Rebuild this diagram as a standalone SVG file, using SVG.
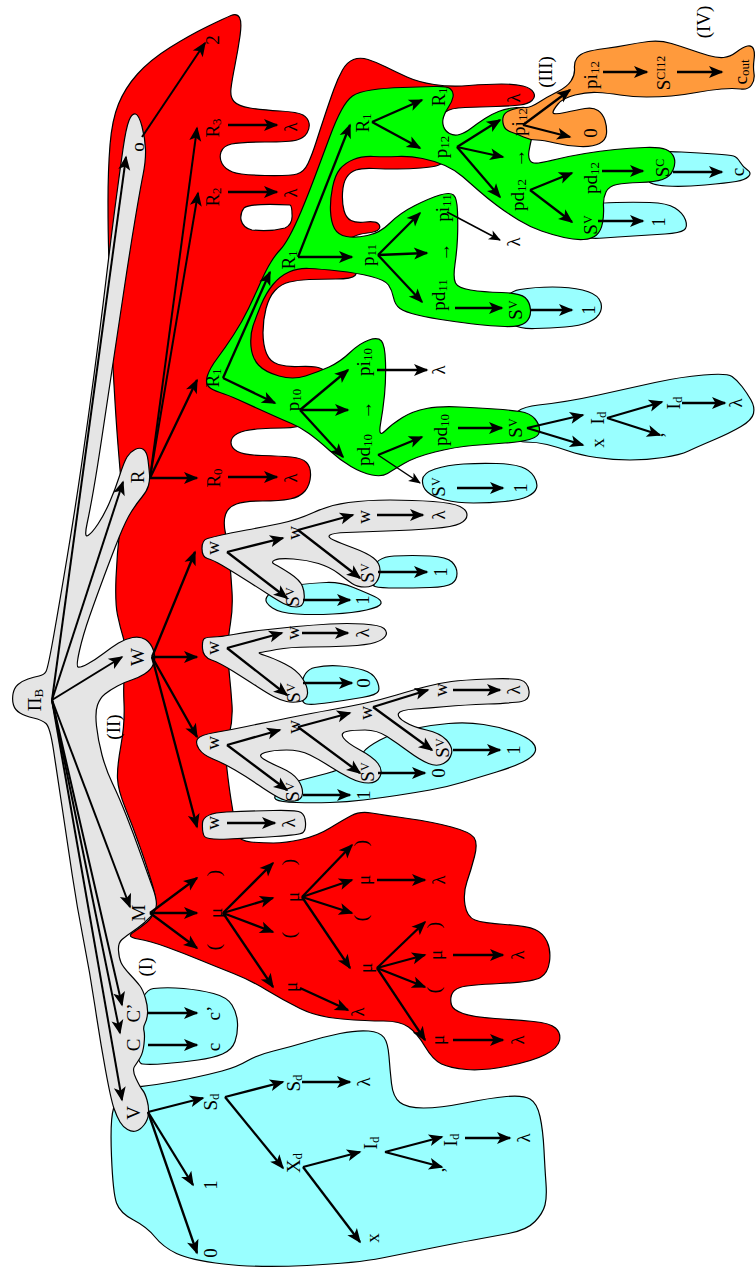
<svg xmlns="http://www.w3.org/2000/svg" width="756" height="1272" viewBox="0 0 756 1272">
<defs>
<style>
.t{font-family:"Liberation Serif","Times New Roman",serif;font-size:19px;text-anchor:middle;dominant-baseline:central;fill:#000}
.s{font-size:13px}
.k{font-size:12px}
.b{stroke:#000;stroke-width:1.2;stroke-linejoin:round}
.red{fill:#ff0000}.grn{fill:#00ff00}.cy{fill:#99ffff}.or{fill:#ff9a3c}.gy{fill:#e5e5e5}.wh{fill:#ffffff}
.a{stroke:#000;stroke-width:2.3;fill:none;marker-end:url(#ah)}
.f{stroke-width:2}
.th{stroke-width:1.5;marker-end:url(#ahs)}
</style>
<marker id="ah" markerUnits="userSpaceOnUse" viewBox="-16 -7 18 14" markerWidth="18" markerHeight="14" refX="0" refY="0" orient="auto"><path d="M1.5,0 L-13,-6 L-9.5,0 L-13,6 Z" fill="#000"/></marker>
<marker id="ahs" markerUnits="userSpaceOnUse" viewBox="-13 -6 15 12" markerWidth="15" markerHeight="12" refX="0" refY="0" orient="auto"><path d="M1,0 L-11,-5 L-8,0 L-11,5 Z" fill="#000"/></marker>
</defs>
<rect width="756" height="1272" fill="#fff"/>
<g id="regions">
<path id="reg-red" class="red b" d="M109,262.5 Q108,235 108,202.5 Q108,170 110,145 Q112,120 118.5,104 Q125,88 137.5,74 Q150,60 170,47.5 Q190,35 207.5,26.5 Q225,18 231,15.5 Q237,13 239.5,17.5 Q242,22 240,36 Q238,50 235,65 Q232,80 231,88.5 Q230,97 234,101.5 Q238,106 250,108 Q262,110 280,111 Q298,112 303,115 Q308,118 309,123 Q310,128 307,133 Q304,138 297,140 Q290,142 265,142 Q240,142 231.5,144 Q223,146 221,152 Q219,158 222,163.5 Q225,169 232.5,172 Q240,175 265,175.5 Q290,176 297,174 Q304,172 308,163.5 Q312,155 316,142.5 Q320,130 325,115 Q330,100 334,89 Q338,78 342.5,70 Q347,62 353.5,59.5 Q360,57 368,59.5 Q376,62 386,67 Q396,72 407,77 Q418,82 434,84.5 Q450,87 469,85.5 Q488,84 501.5,84 Q515,84 523,86 Q531,88 533.5,92.5 Q536,97 532,100.5 Q528,104 520,105 Q512,106 496,106.5 Q480,107 465,107.5 Q450,108 445.5,112 Q441,116 442,122.5 Q443,129 447.5,133 Q452,137 460,139.5 Q468,142 461.5,148.5 Q455,155 447.5,160 Q440,165 436,166 Q432,167 421,168 Q410,169 397.5,169 Q385,169 373.5,168.5 Q362,168 356,170 Q350,172 346.5,177.5 Q343,183 342.5,193 Q342,203 344,210.5 Q346,218 351,220.5 Q356,223 365.5,222 Q375,221 378,223.5 Q381,226 379,229 Q377,232 367.5,233 Q358,234 353,237 Q348,240 350,247.5 Q352,255 355,263.5 Q358,272 355,275.5 Q352,279 336,279 Q320,279 309,279.5 Q298,280 289.5,282 Q281,284 275,290.5 Q269,297 266,308.5 Q263,320 263,332.5 Q263,345 266.5,353.5 Q270,362 278.5,364.5 Q287,367 298.5,366.5 Q310,366 316,367 Q322,368 328.5,373 Q335,378 332.5,389 Q330,400 322.5,409 Q315,418 306.5,423 Q298,428 284,428 Q270,428 257,429 Q244,430 237.5,433.5 Q231,437 231,442.5 Q231,448 237.5,451.5 Q244,455 262,455.5 Q280,456 291,457 Q302,458 306.5,462.5 Q311,467 310.5,476 Q310,485 305,491 Q300,497 290,499 Q280,501 262.5,501 Q245,501 236.5,504 Q228,507 225.5,514.5 Q223,522 225.5,533.5 Q228,545 229.5,560 Q231,575 232,591.5 Q233,608 230.5,623 Q228,638 228,650 Q228,662 229.5,676 Q231,690 232,705 Q233,720 229,736 Q225,752 227,769.5 Q229,787 231,799.5 Q233,812 234.5,821 Q236,830 238,835.5 Q240,841 251,842 Q262,843 273.5,843 Q285,843 301,839.5 Q317,836 330,828 Q343,820 351.5,815.5 Q360,811 371.5,813 Q383,815 408,818.5 Q433,822 451.5,827 Q470,832 474,837.5 Q478,843 474.5,856.5 Q471,870 467,881.5 Q463,893 465,905 Q467,917 475,920 Q483,923 505,924.5 Q527,926 535,929.5 Q543,933 547,941.5 Q551,950 549.5,961.5 Q548,973 540.5,977.5 Q533,982 500,983.5 Q467,985 460,987.5 Q453,990 451.5,995 Q450,1000 451.5,1005 Q453,1010 463,1013.5 Q473,1017 495,1018.5 Q517,1020 533.5,1021.5 Q550,1023 555.5,1028 Q561,1033 559.5,1040.5 Q558,1048 545.5,1054.5 Q533,1061 508,1066 Q483,1071 466.5,1069.5 Q450,1068 441.5,1064 Q433,1060 425,1046.5 Q417,1033 408.5,1027 Q400,1021 383.5,1021 Q367,1021 342,1019 Q317,1017 300,1008.5 Q283,1000 266.5,990 Q250,980 233.5,973.5 Q217,967 200,960 Q183,953 166.5,947 Q150,941 138,939 Q126,937 133,932.5 Q140,928 146.5,922.5 Q153,917 155,908.5 Q157,900 152,883.5 Q147,867 140,847 Q133,827 125.5,808.5 Q118,790 117.5,778.5 Q117,767 121,745 Q125,723 124,703 Q123,683 125,666.5 Q127,650 123.5,638.5 Q120,627 117.5,615 Q115,603 116,578 Q117,553 120,528 Q123,503 121.5,486.5 Q120,470 118,445 Q116,420 114,385 Q112,350 111,320 Q110,290 109,262.5 Z"/>
<path id="hole-r2" class="wh b" d="M290,205 Q250,203 244,208 Q240,213 241,220 Q243,228 252,230 Q270,232 285,228 Q293,224 292,214 Q292,206 290,205 Z"/>
<path class="cy b" d="M505,306 Q505,292 520,289.5 Q535,287 552.5,287 Q570,287 582.5,290 Q595,293 599,299 Q603,305 600.5,311.5 Q598,318 589,322 Q580,326 565,327 Q550,328 535,328.5 Q520,329 512.5,324.5 Q505,320 505,306 Z"/>
<path class="cy b" d="M583,220 Q583,205 591.5,204 Q600,203 616.5,202.5 Q633,202 650,202.5 Q667,203 675,208 Q683,213 685.5,220 Q688,227 684,230 Q680,233 665,234 Q650,235 633.5,236 Q617,237 603.5,238 Q590,239 586.5,237 Q583,235 583,220 Z"/>
<path class="cy b" d="M645,163.5 Q645,152 654,151.5 Q663,151 681.5,152 Q700,153 715,154 Q730,155 733.5,156 Q737,157 740,162 Q743,167 747.5,170 Q752,173 748.5,176.5 Q745,180 736,181.5 Q727,183 705,185 Q683,187 666.5,186 Q650,185 647.5,180 Q645,175 645,163.5 Z"/>
<path class="cy b" d="M511.5,425 Q510,408 538.5,405 Q567,402 598.5,395 Q630,388 655,382.5 Q680,377 703.5,375 Q727,373 732,376.5 Q737,380 742,386.5 Q747,393 751,400 Q755,407 753.5,413.5 Q752,420 741,426.5 Q730,433 713.5,440 Q697,447 688.5,451 Q680,455 663.5,457.5 Q647,460 630,460 Q613,460 596.5,457.5 Q580,455 568.5,451 Q557,447 547,444.5 Q537,442 525,442 Q513,442 511.5,425 Z"/>
<path class="cy b" d="M422.5,480 Q423,473 435,469 Q447,465 463.5,464 Q480,463 496.5,463.5 Q513,464 521.5,467 Q530,470 534,476.5 Q538,483 536.5,488 Q535,493 527.5,496.5 Q520,500 505,501.5 Q490,503 473.5,503 Q457,503 445,500 Q433,497 427.5,492 Q422,487 422.5,480 Z"/>
<path class="cy b" d="M266,599 Q267,595 273.5,591 Q280,587 296.5,585 Q313,583 326.5,582.5 Q340,582 353.5,587.5 Q367,593 374.5,596.5 Q382,600 381,603.5 Q380,607 366.5,610 Q353,613 333,614 Q313,615 296.5,614 Q280,613 272.5,608 Q265,603 266,599 Z"/>
<path class="cy b" d="M372.5,571 Q375,557 394,556 Q413,555 430,556 Q447,557 452,562 Q457,567 457,573.5 Q457,580 452,583.5 Q447,587 430,587.5 Q413,588 396.5,588 Q380,588 375,586.5 Q370,585 372.5,571 Z"/>
<path class="cy b" d="M301.5,686.5 Q303,670 315,667.5 Q327,665 340,666 Q353,667 363,670 Q373,673 376.5,680 Q380,687 378.5,691 Q377,695 362,697.5 Q347,700 330,702.5 Q313,705 306.5,704 Q300,703 301.5,686.5 Z"/>
<path class="cy b" d="M350,763.5 Q360,757 363.5,752 Q367,747 380,740 Q393,733 411.5,729 Q430,725 448.5,723.5 Q467,722 483.5,724.5 Q500,727 513.5,732 Q527,737 532,742 Q537,747 535,752 Q533,757 523,762 Q513,767 496.5,772 Q480,777 463.5,782 Q447,787 430,790 Q413,793 396.5,795.5 Q380,798 363.5,800 Q347,802 330,802.5 Q313,803 296.5,802.5 Q280,802 276,799.5 Q272,797 281,790 Q290,783 301.5,780 Q313,777 326.5,773.5 Q340,770 350,763.5 Z"/>
<path class="cy b" d="M137.5,1026.5 Q140,990 153.5,988.5 Q167,987 183.5,988.5 Q200,990 213.5,993.5 Q227,997 232,1005 Q237,1013 237.5,1023 Q238,1033 235,1041.5 Q232,1050 222.5,1054 Q213,1058 198,1060 Q183,1062 166.5,1063.5 Q150,1065 142.5,1064 Q135,1063 137.5,1026.5 Z"/>
<path class="cy b" d="M120,1092 Q123,1087 131.5,1087 Q140,1087 156.5,1084.5 Q173,1082 190,1078.5 Q207,1075 222,1071 Q237,1067 247,1061 Q257,1055 273.5,1051 Q290,1047 306.5,1042 Q323,1037 340,1033.5 Q357,1030 368.5,1031 Q380,1032 384,1037.5 Q388,1043 389,1056.5 Q390,1070 391.5,1083.5 Q393,1097 400,1102.5 Q407,1108 423.5,1108 Q440,1108 465,1103 Q490,1098 506.5,1096.5 Q523,1095 530,1099 Q537,1103 540,1116.5 Q543,1130 544,1150 Q545,1170 546,1183.5 Q547,1197 545,1205 Q543,1213 535,1221.5 Q527,1230 508.5,1233.5 Q490,1237 473.5,1240 Q457,1243 432,1248 Q407,1253 382,1258 Q357,1263 307,1265.5 Q257,1268 223.5,1264 Q190,1260 176.5,1253.5 Q163,1247 155,1237 Q147,1227 133.5,1220 Q120,1213 116.5,1203 Q113,1193 111.5,1156.5 Q110,1120 113.5,1108.5 Q117,1097 120,1092 Z"/>
<path id="reg-green" class="grn b" d="M208.5,386.5 Q205,383 207.5,375.5 Q210,368 217.5,358 Q225,348 233.5,335 Q242,322 248.5,308.5 Q255,295 260.5,282.5 Q266,270 271,262 Q276,254 280,250 Q284,246 289.5,236 Q295,226 301.5,210.5 Q308,195 315.5,175 Q323,155 329.5,137.5 Q336,120 341.5,110 Q347,100 352.5,96 Q358,92 371.5,90 Q385,88 402.5,87.5 Q420,87 433.5,86.5 Q447,86 450.5,89 Q454,92 453,97 Q452,102 448.5,107 Q445,112 443.5,117 Q442,122 443.5,126.5 Q445,131 449.5,133.5 Q454,136 459.5,134.5 Q465,133 471.5,128 Q478,123 485,118.5 Q492,114 498.5,111.5 Q505,109 512.5,108 Q520,107 525.5,109.5 Q531,112 532.5,120 Q534,128 532,136.5 Q530,145 529,151 Q528,157 530,160.5 Q532,164 538.5,163 Q545,162 557.5,159 Q570,156 585,153.5 Q600,151 615,149.5 Q630,148 645,147.5 Q660,147 666,149.5 Q672,152 674,157.5 Q676,163 673,170 Q670,177 662.5,179.5 Q655,182 640,182.5 Q625,183 617,184.5 Q609,186 606,192 Q603,198 603.5,206.5 Q604,215 602.5,223 Q601,231 596.5,235 Q592,239 583.5,239.5 Q575,240 564,237.5 Q553,235 541.5,231 Q530,227 518.5,220 Q507,213 497,205.5 Q487,198 478.5,190.5 Q470,183 462.5,176.5 Q455,170 445,165.5 Q435,161 422.5,158.5 Q410,156 397.5,156.5 Q385,157 373.5,156.5 Q362,156 353.5,159.5 Q345,163 340,169 Q335,175 332.5,187.5 Q330,200 330.5,211 Q331,222 334.5,228.5 Q338,235 346.5,236.5 Q355,238 367.5,235.5 Q380,233 390,223 Q400,213 415,205.5 Q430,198 440,195 Q450,192 453.5,195 Q457,198 457.5,211.5 Q458,225 457.5,237.5 Q457,250 455,264 Q453,278 455.5,283 Q458,288 470.5,290 Q483,292 501.5,292.5 Q520,293 525,297.5 Q530,302 530.5,310 Q531,318 525.5,322.5 Q520,327 505,326.5 Q490,326 477.5,324.5 Q465,323 447.5,320.5 Q430,318 417.5,315 Q405,312 400,308.5 Q395,305 393.5,297.5 Q392,290 388.5,285 Q385,280 371,276.5 Q357,273 338.5,271 Q320,269 309,268.5 Q298,268 289,272 Q280,276 273,284.5 Q266,293 261,305 Q256,317 253,326 Q250,335 251,346.5 Q252,358 258.5,365 Q265,372 279,376 Q293,380 305.5,376 Q318,372 329,367 Q340,362 350,352.5 Q360,343 369,340 Q378,337 381.5,341 Q385,345 385.5,362.5 Q386,380 384.5,395 Q383,410 380.5,424 Q378,438 385,431 Q392,424 402.5,417.5 Q413,411 426.5,408.5 Q440,406 460,407 Q480,408 495,409 Q510,410 520,411.5 Q530,413 535,419 Q540,425 539.5,431 Q539,437 529.5,439.5 Q520,442 505,443 Q490,444 472.5,445.5 Q455,447 435,452 Q415,457 404,463.5 Q393,470 387.5,473.5 Q382,477 372,475 Q362,473 351,466.5 Q340,460 329,450 Q318,440 309,433.5 Q300,427 291.5,423.5 Q283,420 266.5,412.5 Q250,405 239,400 Q228,395 220,392.5 Q212,390 208.5,386.5 Z"/>
<path id="reg-orange" class="or b" d="M503.5,116 Q505,112 512.5,109.5 Q520,107 525,107.5 Q530,108 538.5,102.5 Q547,97 557,92 Q567,87 571,81 Q575,75 574.5,68.5 Q574,62 577,58 Q580,54 586.5,52 Q593,50 605,48.5 Q617,47 627,45 Q637,43 648.5,41.5 Q660,40 671.5,43.5 Q683,47 691.5,50 Q700,53 708.5,55.5 Q717,58 723.5,57.5 Q730,57 736.5,52 Q743,47 747.5,46 Q752,45 753.5,49 Q755,53 754,60 Q753,67 754,73.5 Q755,80 751.5,85 Q748,90 740.5,89 Q733,88 721.5,89 Q710,90 696.5,92.5 Q683,95 671.5,96 Q660,97 646.5,97 Q633,97 620,95 Q607,93 597,92.5 Q587,92 575,95 Q563,98 558,104 Q553,110 553,112.5 Q553,115 565,112.5 Q577,110 585,108.5 Q593,107 598,110.5 Q603,114 605,120.5 Q607,127 606.5,133.5 Q606,140 599.5,143.5 Q593,147 580,146.5 Q567,146 555,143 Q543,140 536.5,140 Q530,140 523.5,137 Q517,134 511,132 Q505,130 503.5,125 Q502,120 503.5,116 Z"/>
<path class="gy b" d="M207.5,538.5 Q202,540 202,548.5 Q202,557 207.5,558.5 Q213,560 221.5,565 Q230,570 243.5,578.5 Q257,587 267,593.5 Q277,600 283.5,603.5 Q290,607 296.5,607 Q303,607 304,600 Q305,593 302.5,586.5 Q300,580 290,573.5 Q280,567 275,564.5 Q270,562 275,560 Q280,558 293.5,559 Q307,560 318.5,563.5 Q330,567 338.5,573.5 Q347,580 352,583.5 Q357,587 365,587 Q373,587 376.5,582 Q380,577 380,570 Q380,563 373.5,558 Q367,553 353.5,548 Q340,543 333.5,540 Q327,537 330,535 Q333,533 346.5,532.5 Q360,532 386.5,531 Q413,530 433,528.5 Q453,527 460,523.5 Q467,520 467,515 Q467,510 460,506.5 Q453,503 433,501.5 Q413,500 390,500 Q367,500 348.5,502.5 Q330,505 313.5,512.5 Q297,520 280,523.5 Q263,527 246.5,530 Q230,533 221.5,535 Q213,537 207.5,538.5 Z"/>
<path class="gy b" d="M204.5,638.5 Q202,640 202.5,648.5 Q203,657 211.5,660 Q220,663 233.5,671.5 Q247,680 257,686.5 Q267,693 273.5,696.5 Q280,700 286.5,701.5 Q293,703 300,701.5 Q307,700 307.5,693.5 Q308,687 302.5,678.5 Q297,670 285,664 Q273,658 265,655.5 Q257,653 260,652.5 Q263,652 276.5,649.5 Q290,647 310,647 Q330,647 348.5,646 Q367,645 375,642.5 Q383,640 385.5,636 Q388,632 384,628.5 Q380,625 363.5,624 Q347,623 330,624 Q313,625 296.5,626.5 Q280,628 263.5,630 Q247,632 233.5,634.5 Q220,637 213.5,637 Q207,637 204.5,638.5 Z"/>
<path class="gy b" d="M199,749 Q195,743 197.5,739 Q200,735 215,732.5 Q230,730 246.5,726.5 Q263,723 288,718 Q313,713 330,710 Q347,707 363.5,703.5 Q380,700 396.5,695 Q413,690 426.5,686.5 Q440,683 451.5,681.5 Q463,680 488,679 Q513,678 520.5,680 Q528,682 529,691 Q530,700 521.5,701.5 Q513,703 488,704 Q463,705 446.5,706.5 Q430,708 415,709 Q400,710 398.5,713.5 Q397,717 405,722 Q413,727 426.5,730 Q440,733 446.5,740 Q453,747 451.5,753.5 Q450,760 443.5,763.5 Q437,767 428.5,763.5 Q420,760 408.5,751.5 Q397,743 387,736.5 Q377,730 365,730 Q353,730 346.5,731.5 Q340,733 343.5,738 Q347,743 360,750 Q373,757 378,763.5 Q383,770 380,776.5 Q377,783 368.5,783 Q360,783 350,778 Q340,773 330,766.5 Q320,760 310,755 Q300,750 286.5,750 Q273,750 265,752.5 Q257,755 263.5,759 Q270,763 281.5,768 Q293,773 298,780 Q303,787 302.5,793.5 Q302,800 294.5,801 Q287,802 278.5,797.5 Q270,793 258.5,785 Q247,777 235,770 Q223,763 213,759 Q203,755 199,749 Z"/>
<path class="gy b" d="M202.5,823 Q203,813 226.5,812 Q250,811 273.5,810.5 Q297,810 301,812.5 Q305,815 305.5,822.5 Q306,830 303,832.5 Q300,835 275,836.5 Q250,838 228.5,839 Q207,840 204.5,836.5 Q202,833 202.5,823 Z"/>
<path id="reg-trunk" class="gy b" d="M13.5,705 Q12,700 13,694 Q14,688 18,684.5 Q22,681 28,679 Q34,677 39,676 Q44,675 46,671.5 Q48,668 54,634 Q60,600 67.5,555 Q75,510 81.5,465 Q88,420 94,375 Q100,330 106,280 Q112,230 116,200 Q120,170 123,149 Q126,128 129,120.5 Q132,113 135.5,114 Q139,115 142,126.5 Q145,138 145.5,149 Q146,160 143,175 Q140,190 135,220 Q130,250 124,290 Q118,330 112,370 Q106,410 101.5,440 Q97,470 93.5,490 Q90,510 87,524 Q84,538 88,535.5 Q92,533 98,524 Q104,515 109.5,502.5 Q115,490 119.5,476 Q124,462 127,457 Q130,452 135,449.5 Q140,447 143.5,449.5 Q147,452 148,460 Q149,468 149.5,474 Q150,480 148.5,485.5 Q147,491 142,497 Q137,503 131.5,511.5 Q126,520 119,537.5 Q112,555 104,576.5 Q96,598 89.5,616.5 Q83,635 79.5,650.5 Q76,666 78,667 Q80,668 87.5,664 Q95,660 103.5,653.5 Q112,647 118.5,643 Q125,639 132.5,637.5 Q140,636 145.5,639.5 Q151,643 153.5,650.5 Q156,658 153.5,664 Q151,670 144.5,674 Q138,678 131.5,680 Q125,682 117.5,686 Q110,690 105,694 Q100,698 97.5,705 Q95,712 96.5,726 Q98,740 102,755 Q106,770 112.5,783.5 Q119,797 126.5,816 Q134,835 140.5,853.5 Q147,872 153,888.5 Q159,905 154.5,911.5 Q150,918 144,923 Q138,928 132,932 Q126,936 122,939.5 Q118,943 118.5,950.5 Q119,958 121,962.5 Q123,967 130,974.5 Q137,982 140,986 Q143,990 145.5,998.5 Q148,1007 147.5,1013.5 Q147,1020 145,1023.5 Q143,1027 144,1031 Q145,1035 144,1044 Q143,1053 140,1058 Q137,1063 134.5,1066.5 Q132,1070 136,1078.5 Q140,1087 142.5,1090 Q145,1093 147,1100 Q149,1107 148.5,1113.5 Q148,1120 144,1125 Q140,1130 136,1131 Q132,1132 127.5,1129.5 Q123,1127 120,1122 Q117,1117 114,1108.5 Q111,1100 105.5,1070 Q100,1040 95,1006.5 Q90,973 83.5,940 Q77,907 72,873.5 Q67,840 62,806.5 Q57,773 53.5,750 Q50,727 46,723.5 Q42,720 33.5,718 Q25,716 20,713 Q15,710 13.5,705 Z"/>
</g>
<g id="connectors">
<line class="a f" x1="52" y1="700" x2="126" y2="157"/>
<line class="a f" x1="52" y1="700" x2="123" y2="482"/>
<line class="a f" x1="52" y1="700" x2="122" y2="657"/>
<line class="a f" x1="52" y1="700" x2="130" y2="907"/>
<line class="a f" x1="52" y1="700" x2="122" y2="1005"/>
<line class="a f" x1="52" y1="700" x2="120" y2="1033"/>
<line class="a f" x1="52" y1="700" x2="122" y2="1100"/>
<line class="a f" x1="142" y1="137" x2="205" y2="43"/>
<line class="a f" x1="150" y1="478" x2="197" y2="128"/>
<line class="a f" x1="150" y1="478" x2="198" y2="193"/>
<line class="a" x1="150" y1="478" x2="197" y2="380"/>
<line class="a" x1="150" y1="478" x2="197" y2="478"/>
<line class="a" x1="228" y1="125" x2="277" y2="125"/>
<line class="a" x1="228" y1="192" x2="277" y2="192"/>
<line class="a" x1="228" y1="477" x2="277" y2="477"/>
<line class="a" x1="223" y1="378" x2="270" y2="272"/>
<line class="a" x1="223" y1="378" x2="275" y2="403"/>
<line class="a" x1="300" y1="410" x2="348" y2="370"/>
<line class="a" x1="300" y1="410" x2="348" y2="410"/>
<line class="a" x1="300" y1="410" x2="343" y2="457"/>
<line class="a" x1="377" y1="370" x2="427" y2="370"/>
<line class="a" x1="378" y1="455" x2="422" y2="437"/>
<line class="a th" x1="378" y1="455" x2="420" y2="483"/>
<line class="a" x1="457" y1="488" x2="503" y2="488"/>
<line class="a" x1="458" y1="428" x2="502" y2="428"/>
<line class="a" x1="527" y1="428" x2="583" y2="415"/>
<line class="a" x1="527" y1="428" x2="583" y2="445"/>
<line class="a" x1="607" y1="418" x2="662" y2="402"/>
<line class="a" x1="607" y1="418" x2="660" y2="435"/>
<line class="a" x1="682" y1="403" x2="725" y2="403"/>
<line class="a" x1="298" y1="257" x2="352" y2="257"/>
<line class="a" x1="298" y1="257" x2="350" y2="125"/>
<line class="a" x1="378" y1="255" x2="420" y2="213"/>
<line class="a" x1="378" y1="255" x2="427" y2="253"/>
<line class="a" x1="378" y1="255" x2="422" y2="302"/>
<line class="a th" x1="447" y1="212" x2="500" y2="240"/>
<line class="a" x1="455" y1="308" x2="502" y2="308"/>
<line class="a" x1="530" y1="310" x2="572" y2="310"/>
<line class="a" x1="372" y1="122" x2="422" y2="100"/>
<line class="a" x1="372" y1="122" x2="420" y2="148"/>
<line class="a" x1="457" y1="147" x2="500" y2="120"/>
<line class="a" x1="457" y1="147" x2="503" y2="157"/>
<line class="a" x1="457" y1="147" x2="500" y2="197"/>
<line class="a" x1="530" y1="190" x2="572" y2="173"/>
<line class="a" x1="530" y1="190" x2="572" y2="222"/>
<line class="a" x1="602" y1="171" x2="643" y2="171"/>
<line class="a" x1="673" y1="172" x2="722" y2="172"/>
<line class="a" x1="598" y1="221" x2="643" y2="221"/>
<line class="a" x1="523" y1="125" x2="570" y2="90"/>
<line class="a" x1="523" y1="125" x2="570" y2="137"/>
<line class="a" x1="603" y1="72" x2="647" y2="72"/>
<line class="a" x1="677" y1="72" x2="722" y2="72"/>
<line class="a" x1="152" y1="657" x2="195" y2="552"/>
<line class="a" x1="152" y1="657" x2="197" y2="657"/>
<line class="a" x1="152" y1="657" x2="197" y2="737"/>
<line class="a" x1="152" y1="657" x2="197" y2="827"/>
<line class="a" x1="227" y1="552" x2="283" y2="538"/>
<line class="a" x1="227" y1="552" x2="287" y2="598"/>
<line class="a" x1="303" y1="600" x2="350" y2="600"/>
<line class="a" x1="298" y1="530" x2="353" y2="515"/>
<line class="a" x1="298" y1="530" x2="360" y2="578"/>
<line class="a" x1="377" y1="515" x2="423" y2="515"/>
<line class="a" x1="378" y1="572" x2="427" y2="572"/>
<line class="a" x1="227" y1="648" x2="282" y2="633"/>
<line class="a" x1="227" y1="648" x2="287" y2="695"/>
<line class="a" x1="302" y1="633" x2="348" y2="633"/>
<line class="a" x1="303" y1="683" x2="352" y2="683"/>
<line class="a" x1="227" y1="745" x2="280" y2="730"/>
<line class="a" x1="227" y1="745" x2="287" y2="790"/>
<line class="a" x1="303" y1="795" x2="350" y2="795"/>
<line class="a" x1="298" y1="727" x2="350" y2="713"/>
<line class="a" x1="298" y1="727" x2="360" y2="773"/>
<line class="a" x1="378" y1="773" x2="425" y2="773"/>
<line class="a" x1="373" y1="707" x2="428" y2="690"/>
<line class="a" x1="373" y1="707" x2="432" y2="750"/>
<line class="a" x1="453" y1="690" x2="500" y2="690"/>
<line class="a" x1="453" y1="750" x2="500" y2="750"/>
<line class="a" x1="227" y1="823" x2="275" y2="823"/>
<line class="a" x1="150" y1="913" x2="197" y2="878"/>
<line class="a" x1="150" y1="913" x2="197" y2="913"/>
<line class="a" x1="150" y1="913" x2="197" y2="948"/>
<line class="a" x1="223" y1="913" x2="273" y2="863"/>
<line class="a" x1="223" y1="913" x2="273" y2="898"/>
<line class="a" x1="223" y1="913" x2="273" y2="932"/>
<line class="a" x1="223" y1="913" x2="273" y2="987"/>
<line class="a" x1="302" y1="897" x2="352" y2="845"/>
<line class="a" x1="302" y1="897" x2="352" y2="880"/>
<line class="a" x1="302" y1="897" x2="352" y2="913"/>
<line class="a" x1="302" y1="897" x2="350" y2="968"/>
<line class="a" x1="377" y1="880" x2="425" y2="880"/>
<line class="a" x1="300" y1="988" x2="348" y2="1010"/>
<line class="a" x1="377" y1="968" x2="425" y2="922"/>
<line class="a" x1="377" y1="968" x2="425" y2="955"/>
<line class="a" x1="377" y1="968" x2="425" y2="987"/>
<line class="a" x1="377" y1="968" x2="425" y2="1040"/>
<line class="a" x1="453" y1="955" x2="503" y2="955"/>
<line class="a" x1="453" y1="1040" x2="503" y2="1040"/>
<line class="a" x1="148" y1="1013" x2="197" y2="1013"/>
<line class="a" x1="148" y1="1045" x2="197" y2="1045"/>
<line class="a" x1="148" y1="1112" x2="203" y2="1098"/>
<line class="a" x1="148" y1="1112" x2="193" y2="1185"/>
<line class="a" x1="148" y1="1112" x2="197" y2="1253"/>
<line class="a" x1="225" y1="1097" x2="283" y2="1082"/>
<line class="a" x1="225" y1="1097" x2="283" y2="1168"/>
<line class="a" x1="302" y1="1082" x2="350" y2="1082"/>
<line class="a" x1="303" y1="1167" x2="360" y2="1152"/>
<line class="a" x1="303" y1="1167" x2="360" y2="1242"/>
<line class="a" x1="385" y1="1152" x2="442" y2="1137"/>
<line class="a" x1="385" y1="1152" x2="442" y2="1167"/>
<line class="a" x1="465" y1="1138" x2="510" y2="1138"/>
</g>
<g id="labels">
<g id="n-pib"><text class="t" transform="translate(34,700) rotate(-90)">Π<tspan class="s" dy="4">B</tspan></text></g>
<g id="n-o"><text class="t" transform="translate(137,147) rotate(-90)">o</text></g>
<g id="n-2"><text class="t" transform="translate(212,40) rotate(-90)">2</text></g>
<g id="n-R"><text class="t" transform="translate(137,477) rotate(-90)">R</text></g>
<g id="n-R3"><text class="t" transform="translate(212,128) rotate(-90)">R<tspan class="s" dy="4">3</tspan></text></g>
<g id="n-l1"><text class="t" transform="translate(290,127) rotate(-90)">λ</text></g>
<g id="n-R2"><text class="t" transform="translate(212,197) rotate(-90)">R<tspan class="s" dy="4">2</tspan></text></g>
<g id="n-l2"><text class="t" transform="translate(290,193) rotate(-90)">λ</text></g>
<g id="n-R0"><text class="t" transform="translate(213,478) rotate(-90)">R<tspan class="s" dy="4">0</tspan></text></g>
<g id="n-l3"><text class="t" transform="translate(290,478) rotate(-90)">λ</text></g>
<g id="n-R1a"><text class="t" transform="translate(212,378) rotate(-90)">R<tspan class="s" dy="4">1</tspan></text></g>
<g id="n-p10"><text class="t" transform="translate(292,400) rotate(-90)">p<tspan class="s" dy="4">10</tspan></text></g>
<g id="n-pi10"><text class="t" transform="translate(363,362) rotate(-90)">pi<tspan class="s" dy="4">10</tspan></text></g>
<g id="n-ar10"><text class="t" transform="translate(365,410) rotate(-90)">→</text></g>
<g id="n-pd10"><text class="t" transform="translate(363,450) rotate(-90)">pd<tspan class="s" dy="4">10</tspan></text></g>
<g id="n-l4"><text class="t" transform="translate(438,370) rotate(-90)">λ</text></g>
<g id="n-pd10b"><text class="t" transform="translate(440,430) rotate(-90)">pd<tspan class="s" dy="4">10</tspan></text></g>
<g id="n-sv10a"><text class="t" transform="translate(438,487) rotate(-90)">S<tspan class="k" dy="-2">V</tspan></text></g>
<g id="n-one1"><text class="t" transform="translate(520,488) rotate(-90)">1</text></g>
<g id="n-sv10b"><text class="t" transform="translate(515,428) rotate(-90)">S<tspan class="k" dy="-2">V</tspan></text></g>
<g id="n-id1"><text class="t" transform="translate(597,418) rotate(-90)">I<tspan class="s" dy="4">d</tspan></text></g>
<g id="n-x1"><text class="t" transform="translate(597,443) rotate(-90)">x</text></g>
<g id="n-id2"><text class="t" transform="translate(673,403) rotate(-90)">I<tspan class="s" dy="4">d</tspan></text></g>
<g id="n-q1"><text class="t" transform="translate(667,435) rotate(-90)">’</text></g>
<g id="n-l5"><text class="t" transform="translate(735,403) rotate(-90)">λ</text></g>
<g id="n-R1b"><text class="t" transform="translate(288,260) rotate(-90)">R<tspan class="s" dy="4">1</tspan></text></g>
<g id="n-p11"><text class="t" transform="translate(367,255) rotate(-90)">p<tspan class="s" dy="4">11</tspan></text></g>
<g id="n-pi11"><text class="t" transform="translate(442,208) rotate(-90)">pi<tspan class="s" dy="4">11</tspan></text></g>
<g id="n-ar11"><text class="t" transform="translate(443,252) rotate(-90)">→</text></g>
<g id="n-pd11"><text class="t" transform="translate(438,295) rotate(-90)">pd<tspan class="s" dy="4">11</tspan></text></g>
<g id="n-l6"><text class="t" transform="translate(513,242) rotate(-90)">λ</text></g>
<g id="n-sv11"><text class="t" transform="translate(515,310) rotate(-90)">S<tspan class="k" dy="-2">V</tspan></text></g>
<g id="n-one2"><text class="t" transform="translate(588,310) rotate(-90)">1</text></g>
<g id="n-R1c"><text class="t" transform="translate(362,123) rotate(-90)">R<tspan class="s" dy="4">1</tspan></text></g>
<g id="n-R1d"><text class="t" transform="translate(438,97) rotate(-90)">R<tspan class="s" dy="4">1</tspan></text></g>
<g id="n-l7"><text class="t" transform="translate(513,98) rotate(-90)">λ</text></g>
<g id="n-p12"><text class="t" transform="translate(440,147) rotate(-90)">p<tspan class="s" dy="4">12</tspan></text></g>
<g id="n-pi12"><text class="t" transform="translate(518,122) rotate(-90)">pi<tspan class="s" dy="4">12</tspan></text></g>
<g id="n-ar12"><text class="t" transform="translate(518,158) rotate(-90)">→</text></g>
<g id="n-pd12"><text class="t" transform="translate(517,195) rotate(-90)">pd<tspan class="s" dy="4">12</tspan></text></g>
<g id="n-pd12b"><text class="t" transform="translate(590,178) rotate(-90)">pd<tspan class="s" dy="4">12</tspan></text></g>
<g id="n-sv12"><text class="t" transform="translate(590,225) rotate(-90)">S<tspan class="k" dy="-2">V</tspan></text></g>
<g id="n-sc"><text class="t" transform="translate(662,168) rotate(-90)">S<tspan class="k" dy="-2">C</tspan></text></g>
<g id="n-c1"><text class="t" transform="translate(737,172) rotate(-90)">c</text></g>
<g id="n-one3"><text class="t" transform="translate(658,222) rotate(-90)">1</text></g>
<g id="n-pi12b"><text class="t" transform="translate(590,75) rotate(-90)">pi<tspan class="s" dy="4">12</tspan></text></g>
<g id="n-zero1"><text class="t" transform="translate(590,133) rotate(-90)">0</text></g>
<g id="n-scl"><text class="t" transform="translate(663,73) rotate(-90)">S<tspan class="k" dy="-2">CI12</tspan></text></g>
<g id="n-cout"><text class="t" transform="translate(740,72) rotate(-90)">c<tspan class="s" dy="4">out</tspan></text></g>
<g id="n-III"><text class="t" transform="translate(545,72) rotate(-90)">(III)</text></g>
<g id="n-IV"><text class="t" transform="translate(703,22) rotate(-90)">(IV)</text></g>
<g id="n-W"><text class="t" transform="translate(137,657) rotate(-90)">W</text></g>
<g id="n-w1"><text class="t" transform="translate(212,548) rotate(-90)">w</text></g>
<g id="n-w1a"><text class="t" transform="translate(293,533) rotate(-90)">w</text></g>
<g id="n-w1s"><text class="t" transform="translate(292,597) rotate(-90)">S<tspan class="k" dy="-2">V</tspan></text></g>
<g id="n-w1s1"><text class="t" transform="translate(362,600) rotate(-90)">1</text></g>
<g id="n-w1b"><text class="t" transform="translate(363,517) rotate(-90)">w</text></g>
<g id="n-w1l"><text class="t" transform="translate(438,515) rotate(-90)">λ</text></g>
<g id="n-w1t"><text class="t" transform="translate(367,573) rotate(-90)">S<tspan class="k" dy="-2">V</tspan></text></g>
<g id="n-w1t1"><text class="t" transform="translate(440,572) rotate(-90)">1</text></g>
<g id="n-w2"><text class="t" transform="translate(212,648) rotate(-90)">w</text></g>
<g id="n-w2a"><text class="t" transform="translate(292,633) rotate(-90)">w</text></g>
<g id="n-w2l"><text class="t" transform="translate(362,633) rotate(-90)">λ</text></g>
<g id="n-w2s"><text class="t" transform="translate(293,693) rotate(-90)">S<tspan class="k" dy="-2">V</tspan></text></g>
<g id="n-w2s0"><text class="t" transform="translate(363,683) rotate(-90)">0</text></g>
<g id="n-w3"><text class="t" transform="translate(212,743) rotate(-90)">w</text></g>
<g id="n-w3a"><text class="t" transform="translate(293,727) rotate(-90)">w</text></g>
<g id="n-w3s"><text class="t" transform="translate(292,792) rotate(-90)">S<tspan class="k" dy="-2">V</tspan></text></g>
<g id="n-w3s1"><text class="t" transform="translate(363,795) rotate(-90)">1</text></g>
<g id="n-w3b"><text class="t" transform="translate(365,713) rotate(-90)">w</text></g>
<g id="n-w3t"><text class="t" transform="translate(367,772) rotate(-90)">S<tspan class="k" dy="-2">V</tspan></text></g>
<g id="n-w3t0"><text class="t" transform="translate(438,773) rotate(-90)">0</text></g>
<g id="n-w3c"><text class="t" transform="translate(440,690) rotate(-90)">w</text></g>
<g id="n-w3cl"><text class="t" transform="translate(513,690) rotate(-90)">λ</text></g>
<g id="n-w3u"><text class="t" transform="translate(442,748) rotate(-90)">S<tspan class="k" dy="-2">V</tspan></text></g>
<g id="n-w3u1"><text class="t" transform="translate(513,750) rotate(-90)">1</text></g>
<g id="n-w4"><text class="t" transform="translate(212,823) rotate(-90)">w</text></g>
<g id="n-w4l"><text class="t" transform="translate(288,823) rotate(-90)">λ</text></g>
<g id="n-II"><text class="t" transform="translate(113,727) rotate(-90)">(II)</text></g>
<g id="n-M"><text class="t" transform="translate(138,913) rotate(-90)">M</text></g>
<g id="n-m1"><text class="t" transform="translate(213,873) rotate(-90)">)</text></g>
<g id="n-m2"><text class="t" transform="translate(215,913) rotate(-90)">μ</text></g>
<g id="n-m3"><text class="t" transform="translate(213,947) rotate(-90)">(</text></g>
<g id="n-m4"><text class="t" transform="translate(288,862) rotate(-90)">)</text></g>
<g id="n-m5"><text class="t" transform="translate(292,897) rotate(-90)">μ</text></g>
<g id="n-m6"><text class="t" transform="translate(288,935) rotate(-90)">(</text></g>
<g id="n-m7"><text class="t" transform="translate(290,987) rotate(-90)">μ</text></g>
<g id="n-m8"><text class="t" transform="translate(360,843) rotate(-90)">)</text></g>
<g id="n-m9"><text class="t" transform="translate(363,880) rotate(-90)">μ</text></g>
<g id="n-m10"><text class="t" transform="translate(360,918) rotate(-90)">(</text></g>
<g id="n-m11"><text class="t" transform="translate(365,968) rotate(-90)">μ</text></g>
<g id="n-m12"><text class="t" transform="translate(438,880) rotate(-90)">λ</text></g>
<g id="n-m13"><text class="t" transform="translate(357,1012) rotate(-90)">λ</text></g>
<g id="n-m14"><text class="t" transform="translate(433,925) rotate(-90)">)</text></g>
<g id="n-m15"><text class="t" transform="translate(435,955) rotate(-90)">μ</text></g>
<g id="n-m16"><text class="t" transform="translate(433,990) rotate(-90)">(</text></g>
<g id="n-m17"><text class="t" transform="translate(437,1040) rotate(-90)">μ</text></g>
<g id="n-m18"><text class="t" transform="translate(517,955) rotate(-90)">λ</text></g>
<g id="n-m19"><text class="t" transform="translate(517,1040) rotate(-90)">λ</text></g>
<g id="n-I"><text class="t" transform="translate(145,967) rotate(-90)">(I)</text></g>
<g id="n-Cp"><text class="t" transform="translate(133,1013) rotate(-90)">C’</text></g>
<g id="n-cp"><text class="t" transform="translate(213,1013) rotate(-90)">c’</text></g>
<g id="n-C"><text class="t" transform="translate(133,1045) rotate(-90)">C</text></g>
<g id="n-c"><text class="t" transform="translate(213,1047) rotate(-90)">c</text></g>
<g id="n-V"><text class="t" transform="translate(133,1113) rotate(-90)">V</text></g>
<g id="n-sd1"><text class="t" transform="translate(210,1102) rotate(-90)">S<tspan class="s" dy="4">d</tspan></text></g>
<g id="n-v1"><text class="t" transform="translate(210,1185) rotate(-90)">1</text></g>
<g id="n-v0"><text class="t" transform="translate(210,1253) rotate(-90)">0</text></g>
<g id="n-sd2"><text class="t" transform="translate(293,1083) rotate(-90)">S<tspan class="s" dy="4">d</tspan></text></g>
<g id="n-sdl"><text class="t" transform="translate(363,1082) rotate(-90)">λ</text></g>
<g id="n-xd"><text class="t" transform="translate(293,1163) rotate(-90)">X<tspan class="s" dy="4">d</tspan></text></g>
<g id="n-id3"><text class="t" transform="translate(370,1143) rotate(-90)">I<tspan class="s" dy="4">d</tspan></text></g>
<g id="n-x2"><text class="t" transform="translate(372,1238) rotate(-90)">x</text></g>
<g id="n-id4"><text class="t" transform="translate(450,1140) rotate(-90)">I<tspan class="s" dy="4">d</tspan></text></g>
<g id="n-q2"><text class="t" transform="translate(448,1170) rotate(-90)">’</text></g>
<g id="n-l8"><text class="t" transform="translate(523,1138) rotate(-90)">λ</text></g>
</g>
</svg>
